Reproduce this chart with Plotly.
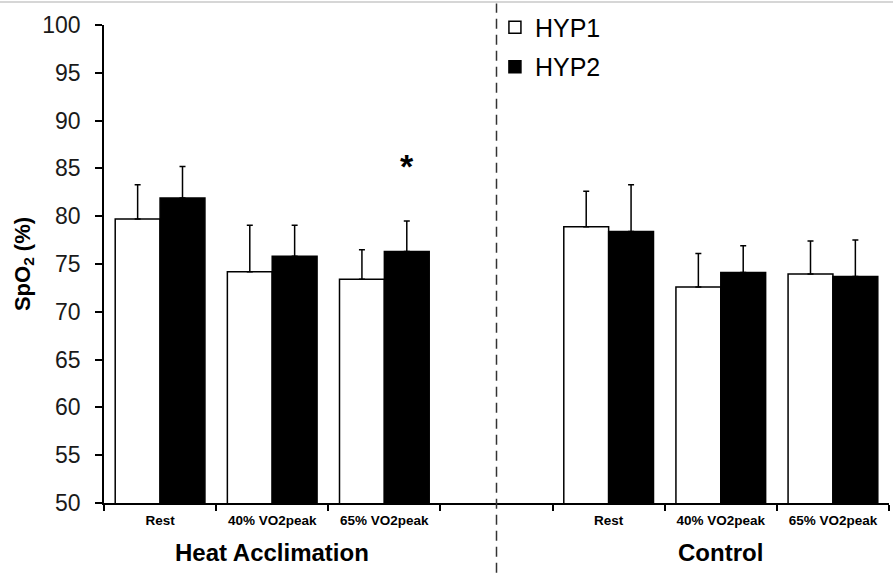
import plotly.graph_objects as go

categories = ["Rest", "40% VO2peak", "65% VO2peak", "", "Rest", "40% VO2peak", "65% VO2peak"]
hyp1 = [79.7, 74.2, 73.4, None, 78.9, 72.6, 73.95]
hyp2 = [81.9, 75.8, 76.3, None, 78.4, 74.1, 73.7]
hyp1_err = [3.6, 4.85, 3.1, None, 3.7, 3.5, 3.45]
hyp2_err = [3.3, 3.25, 3.2, None, 4.9, 2.8, 3.8]
group_labels = ["Heat Acclimation", "Control"]
y_ticks = [50, 55, 60, 65, 70, 75, 80, 85, 90, 95, 100]

FONT = "Liberation Sans, Arial, sans-serif"
xpos = list(range(len(categories)))

fig = go.Figure()
fig.add_trace(go.Bar(
    x=xpos, y=hyp1, name="HYP1", legendgroup="a",
    marker=dict(color="white", line=dict(color="black", width=1.5)),
    error_y=dict(type="data", array=[e if e is not None else 0 for e in hyp1_err],
                 symmetric=False, arrayminus=[0] * len(xpos),
                 color="black", thickness=1.5, width=3),
))
fig.add_trace(go.Bar(
    x=xpos, y=hyp2, name="HYP2", legendgroup="b",
    marker=dict(color="black", line=dict(color="black", width=1.5)),
    error_y=dict(type="data", array=[e if e is not None else 0 for e in hyp2_err],
                 symmetric=False, arrayminus=[0] * len(xpos),
                 color="black", thickness=1.5, width=3),
))

# significance marker above HA 65% HYP2
fig.add_annotation(x=2.2, y=hyp2[2] + hyp2_err[2], yshift=34, text="<b>*</b>",
                   showarrow=False, font=dict(family=FONT, size=34, color="black"),
                   yanchor="bottom", xref="x", yref="y")

# group labels
fig.add_annotation(x=1, y=0, yref="paper", xref="x", yshift=-34, text="<b>%s</b>" % group_labels[0],
                   showarrow=False, yanchor="top", font=dict(family=FONT, size=24, color="black"))
fig.add_annotation(x=5, y=0, yref="paper", xref="x", yshift=-34, text="<b>%s</b>" % group_labels[1],
                   showarrow=False, yanchor="top", font=dict(family=FONT, size=24, color="black"))

# dashed separator
fig.add_shape(type="line", xref="x", yref="paper", x0=3, x1=3, y0=-0.146, y1=1.045,
              line=dict(color="#333333", width=1.5, dash="10px,6px"))
# faint top rule
fig.add_shape(type="line", xref="paper", yref="paper", x0=-0.2, x1=1.05, y0=1.048, y1=1.048,
              line=dict(color="#c8c8c8", width=1.5))

fig.update_layout(
    width=893, height=573,
    margin=dict(l=104, r=4, t=25, b=70),
    paper_bgcolor="white", plot_bgcolor="white",
    barmode="group", bargap=0.2, bargroupgap=0,
    font=dict(family=FONT, color="black"),
    showlegend=True,
    legend=dict(x=0.498, y=1.043, xanchor="left", yanchor="top",
                font=dict(family=FONT, size=25, color="black"),
                bgcolor="rgba(0,0,0,0)", tracegroupgap=4, itemclick=False),
    xaxis=dict(
        range=[-0.5, 6.5], tickmode="array", tickvals=xpos, ticktext=categories,
        ticks="", showline=True, linecolor="black", linewidth=1.5,
        tickfont=dict(family=FONT, size=13.5, color="black", weight="bold"),
        ticklabelstandoff=4, showgrid=False, zeroline=False,
        minor=dict(tickmode="array", tickvals=[i - 0.5 for i in xpos] + [len(xpos) - 0.5],
                   ticks="outside", ticklen=6, tickwidth=1.5, tickcolor="black", showgrid=False),
    ),
    yaxis=dict(
        range=[50, 100], tickmode="array", tickvals=y_ticks,
        ticks="outside", ticklen=7, tickwidth=1.5, tickcolor="black",
        showline=True, linecolor="black", linewidth=1.5,
        tickfont=dict(family=FONT, size=23, color="#1a1a1a"),
        ticklabelstandoff=10, showgrid=False, zeroline=False,
        title=dict(text="<b>SpO<sub>2</sub> (%)</b>", font=dict(family=FONT, size=22, color="black"),
                   standoff=6),
    ),
)

fig.write_html("out.html")
